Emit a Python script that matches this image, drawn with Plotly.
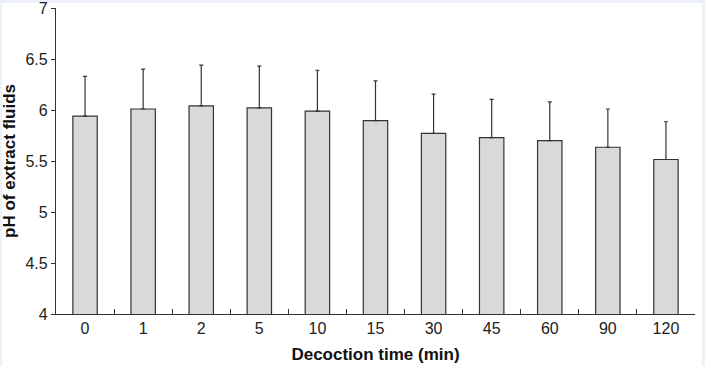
import plotly.graph_objects as go

categories = ["0", "1", "2", "5", "10", "15", "30", "45", "60", "90", "120"]
ph_mean = [5.94, 6.01, 6.04, 6.02, 5.99, 5.895, 5.77, 5.73, 5.70, 5.635, 5.515]
ph_sd = [0.39, 0.39, 0.40, 0.41, 0.40, 0.39, 0.385, 0.375, 0.38, 0.375, 0.37]
y_ticks = [4, 4.5, 5, 5.5, 6, 6.5, 7]

fig = go.Figure()
fig.add_trace(go.Bar(
    x=categories, y=ph_mean,
    width=0.42,
    marker=dict(color="#d9d9d9", line=dict(color="#333333", width=1.2)),
    error_y=dict(type="data", array=ph_sd, arrayminus=[0] * len(ph_sd),
                 symmetric=False, color="#333333", thickness=1.2, width=2),
    cliponaxis=False,
))

fig.update_layout(
    width=705, height=366,
    margin=dict(l=56, r=10, t=8, b=52, autoexpand=False),
    paper_bgcolor="#edf2f8",
    plot_bgcolor="white",
    showlegend=False,
    font=dict(family="Arial, Liberation Sans, sans-serif", size=16, color="#222222"),
    shapes=[dict(type="rect", xref="paper", yref="paper", layer="below",
                 x0=-0.0845, x1=1.011, y0=-0.175, y1=1.0163,
                 fillcolor="white", line=dict(width=0))],
)
fig.update_xaxes(
    type="category", showline=True, linecolor="#333333", linewidth=1.2,
    ticks="inside", tickson="boundaries", ticklen=5, tickcolor="#333333",
    tickfont=dict(size=16), showgrid=False, automargin=False,
    title=dict(text="<b>Decoction time (min)</b>", font=dict(size=17, color="#111111"), standoff=11),
)
fig.update_yaxes(
    range=[4, 7.0001], tickvals=y_ticks, ticktext=[f"{v:g}" for v in y_ticks],
    showline=True, linecolor="#333333", linewidth=1.2,
    ticks="outside", ticklen=4, tickcolor="#333333", ticklabeloverflow="allow",
    tickfont=dict(size=16), showgrid=False, zeroline=False, automargin=False,
    title=dict(text="<b>pH of extract fluids</b>", font=dict(size=17, color="#111111"), standoff=6),
)

fig.write_html("out.html", config={"displayModeBar": False},
               post_script="document.body.style.margin='0';")
